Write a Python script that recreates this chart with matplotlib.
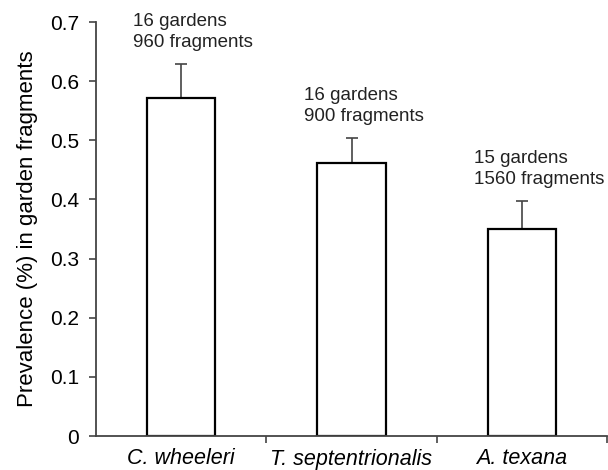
import numpy as np
import matplotlib.pyplot as plt
from matplotlib.ticker import FuncFormatter, FixedLocator

plt.rcParams['font.family'] = ['Liberation Sans', 'DejaVu Sans']

species = ['C. wheeleri', 'T. septentrionalis', 'A. texana']
prevalence = [0.571, 0.461, 0.350]
sem = [0.058, 0.043, 0.048]
gardens = [16, 16, 15]
fragments = [960, 900, 1560]

fig = plt.figure(figsize=(6.08, 4.70), dpi=100)
ax = fig.add_axes([96 / 608, 34 / 470, 511 / 608, 414 / 470])

x = np.arange(len(species))
ax.bar(x, prevalence, width=0.4, color='white', edgecolor='black', linewidth=1.6, zorder=2)
ax.errorbar(x, prevalence, yerr=[np.zeros(len(sem)), sem], fmt='none',
            ecolor='#444444', elinewidth=1.2, capsize=4, capthick=1.2, zorder=1)

# sample size above each bar
for i in range(len(species)):
    ax.annotate(f'{gardens[i]} gardens\n{fragments[i]} fragments',
                xy=(x[i], prevalence[i] + sem[i]), xytext=(-48, 32),
                textcoords='offset pixels', ha='left', va='center',
                fontsize=13.5, color='#222222', linespacing=1.3)

ax.set_xlim(-0.5, 2.5)
ax.set_ylim(0, 0.7)
ax.set_yticks(np.arange(0, 0.71, 0.1))
ax.yaxis.set_major_formatter(FuncFormatter(lambda v, p: '0' if v == 0 else f'{v:.1f}'))
ax.set_xticks(x)
ax.set_xticklabels(species, fontstyle='italic', fontsize=15.5)
ax.xaxis.set_minor_locator(FixedLocator([0.5, 1.5, 2.5]))
ax.tick_params(axis='x', which='major', length=0, pad=9)
ax.tick_params(axis='x', which='minor', length=5, width=1.2, color='#444444', direction='out')
ax.tick_params(axis='y', length=5, width=1.2, color='#444444', direction='out',
               labelsize=15, pad=7)
ax.set_ylabel('Prevalence (%) in garden fragments', fontsize=16, labelpad=9)

for s in ['top', 'right']:
    ax.spines[s].set_visible(False)
for s in ['left', 'bottom']:
    ax.spines[s].set_color('#444444')
    ax.spines[s].set_linewidth(1.3)

fig.savefig('out.png', dpi=100)
